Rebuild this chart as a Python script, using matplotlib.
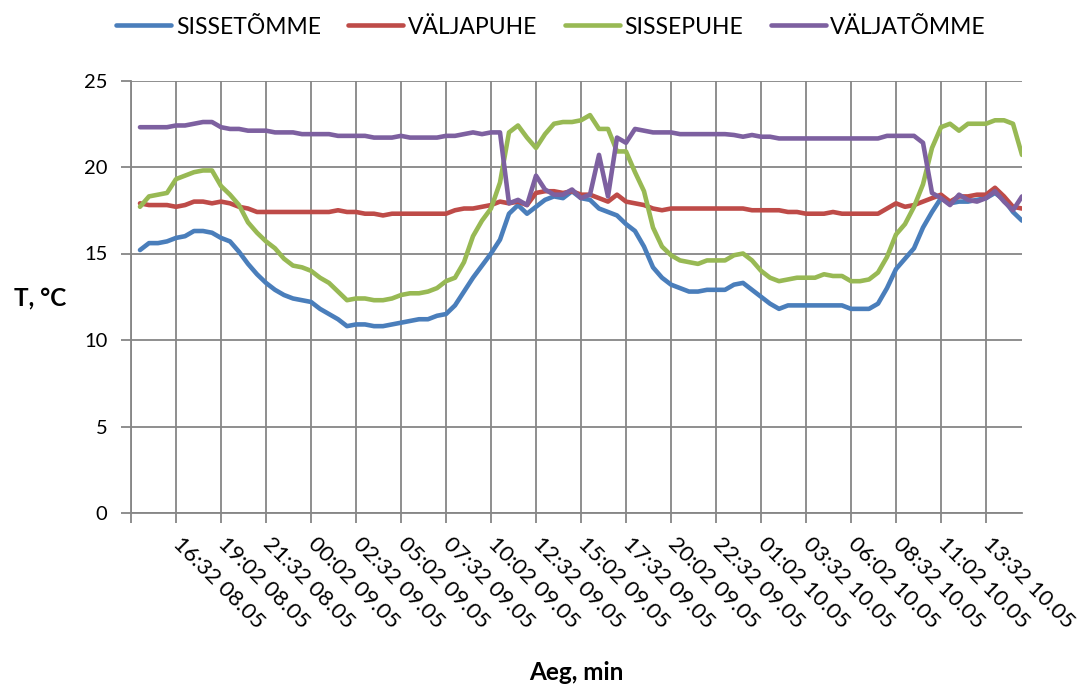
import matplotlib
matplotlib.use('Agg')
from matplotlib import pyplot as plt
from matplotlib import transforms
import numpy as np

plt.rcParams['font.family'] = ['Lato', 'DejaVu Sans']

# temperatures, 30 min step (first category of the axis is empty)
sissetomme = [15.2, 15.6, 15.6, 15.7, 15.9, 16.0, 16.3, 16.3, 16.2, 15.9, 15.7, 15.1, 14.4, 13.8, 13.3, 12.9, 12.6, 12.4, 12.3,
              12.2, 11.8, 11.5, 11.2, 10.8, 10.9, 10.9, 10.8, 10.8, 10.9, 11.0, 11.1, 11.2, 11.2, 11.4, 11.5, 12.0, 12.8, 13.6,
              14.3, 15.0, 15.8, 17.3, 17.8, 17.3, 17.7, 18.1, 18.3, 18.2, 18.6, 18.2, 18.1, 17.6, 17.4, 17.2, 16.7, 16.3, 15.4,
              14.2, 13.6, 13.2, 13.0, 12.8, 12.8, 12.9, 12.9, 12.9, 13.2, 13.3, 12.9, 12.5, 12.1, 11.8, 12.0, 12.0, 12.0,
              12.0, 12.0, 12.0, 12.0, 11.8, 11.8, 11.8, 12.1, 13.0, 14.1, 14.7, 15.3, 16.5, 17.4, 18.2, 17.9, 18.0, 18.0,
              18.1, 18.2, 18.5, 18.1, 17.4, 16.9]
valjapuhe = [17.9, 17.8, 17.8, 17.8, 17.7, 17.8, 18.0, 18.0, 17.9, 18.0, 17.9, 17.7, 17.6, 17.4, 17.4, 17.4, 17.4, 17.4, 17.4,
             17.4, 17.4, 17.4, 17.5, 17.4, 17.4, 17.3, 17.3, 17.2, 17.3, 17.3, 17.3, 17.3, 17.3, 17.3, 17.3, 17.5, 17.6, 17.6,
             17.7, 17.8, 18.0, 17.9, 18.0, 17.8, 18.5, 18.6, 18.6, 18.5, 18.6, 18.4, 18.4, 18.2, 18.0, 18.4, 18.0, 17.9, 17.8,
             17.6, 17.5, 17.6, 17.6, 17.6, 17.6, 17.6, 17.6, 17.6, 17.6, 17.6, 17.5, 17.5, 17.5, 17.5, 17.4, 17.4, 17.3,
             17.3, 17.3, 17.4, 17.3, 17.3, 17.3, 17.3, 17.3, 17.6, 17.9, 17.7, 17.8, 18.0, 18.2, 18.4, 18.0, 18.3, 18.3,
             18.4, 18.4, 18.8, 18.3, 17.7, 17.6]
sissepuhe = [17.7, 18.3, 18.4, 18.5, 19.3, 19.5, 19.7, 19.8, 19.8, 18.9, 18.4, 17.8, 16.8, 16.2, 15.7, 15.3, 14.7, 14.3, 14.2,
             14.0, 13.6, 13.3, 12.8, 12.3, 12.4, 12.4, 12.3, 12.3, 12.4, 12.6, 12.7, 12.7, 12.8, 13.0, 13.4, 13.6, 14.5, 16.0,
             16.9, 17.6, 19.1, 22.0, 22.4, 21.7, 21.1, 21.9, 22.5, 22.6, 22.6, 22.7, 23.0, 22.2, 22.2, 20.9, 20.9, 19.7, 18.6,
             16.5, 15.4, 14.9, 14.6, 14.5, 14.4, 14.6, 14.6, 14.6, 14.9, 15.0, 14.6, 14.0, 13.6, 13.4, 13.5, 13.6, 13.6,
             13.6, 13.8, 13.7, 13.7, 13.4, 13.4, 13.5, 13.9, 14.8, 16.1, 16.7, 17.7, 19.0, 21.1, 22.3, 22.5, 22.1, 22.5,
             22.5, 22.5, 22.7, 22.7, 22.5, 20.7]
valjatomme = [22.3, 22.3, 22.3, 22.3, 22.4, 22.4, 22.5, 22.6, 22.6, 22.3, 22.2, 22.2, 22.1, 22.1, 22.1, 22.0, 22.0, 22.0, 21.9,
              21.9, 21.9, 21.9, 21.8, 21.8, 21.8, 21.8, 21.7, 21.7, 21.7, 21.8, 21.7, 21.7, 21.7, 21.7, 21.8, 21.8, 21.9, 22.0,
              21.9, 22.0, 22.0, 17.9, 18.1, 17.8, 19.5, 18.7, 18.4, 18.4, 18.7, 18.2, 18.4, 20.7, 18.3, 21.7, 21.4, 22.2, 22.1,
              22.0, 22.0, 22.0, 21.9, 21.9, 21.9, 21.9, 21.9, 21.9, 21.85, 21.75, 21.85, 21.75, 21.75, 21.65, 21.65, 21.65, 21.65,
              21.65, 21.65, 21.65, 21.65, 21.65, 21.65, 21.65, 21.65, 21.8, 21.8, 21.8, 21.8, 21.4, 18.5, 18.2, 17.8, 18.4, 18.1,
              18.0, 18.2, 18.6, 18.0, 17.5, 18.3]

names = ['SISSETÕMME', 'VÄLJAPUHE', 'SISSEPUHE', 'VÄLJATÕMME']
colors = ['#4A7EBB', '#BE4B48', '#98B954', '#7D60A0']

time_labels = ['16:32 08.05', '19:02 08.05', '21:32 08.05', '00:02 09.05', '02:32 09.05', '05:02 09.05',
               '07:32 09.05', '10:02 09.05', '12:32 09.05', '15:02 09.05', '17:32 09.05', '20:02 09.05',
               '22:32 09.05', '01:02 10.05', '03:32 10.05', '06:02 10.05', '08:32 10.05', '11:02 10.05',
               '13:32 10.05']

grid_c = '#868686'

fig = plt.figure(figsize=(10.81, 6.86), dpi=100)
ax = fig.add_axes([131 / 1081, 1 - 513 / 686, (1022 - 131) / 1081, (513 - 80.5) / 686])

x = np.arange(1, len(sissetomme) + 1)
for series, name, c in zip([sissetomme, valjapuhe, sissepuhe, valjatomme], names, colors):
    ax.plot(x, series, color=c, lw=3.3, label=name, solid_joinstyle='round', solid_capstyle='round')

ax.set_xlim(0, len(x))
ax.set_ylim(0, 25)
ax.set_yticks(range(0, 26, 5))
ax.set_xticks(range(0, 5 * len(time_labels) + 1, 5))
ax.set_xticklabels([''] + time_labels, rotation=-45, ha='left', va='center', rotation_mode='anchor')
ax.grid(True, color=grid_c, lw=1.3)
ax.set_axisbelow(True)
for s in ['top', 'right']:
    ax.spines[s].set_visible(False)
for s in ['left', 'bottom']:
    ax.spines[s].set_color(grid_c)
    ax.spines[s].set_linewidth(1.3)
ax.tick_params(axis='both', direction='out', length=7, width=1.3, color=grid_c, labelsize=14.5)
ax.tick_params(axis='y', pad=10)
ax.tick_params(axis='x', pad=13)

# shift the rotated labels a little, like excel does
off = transforms.ScaledTranslation(0, 0, fig.dpi_scale_trans)
for lab in ax.get_xticklabels():
    lab.set_transform(lab.get_transform() + off)
    lab.set_fontsize(16)

fig.text(40 / 1081, 1 - 298 / 686, 'T, °C', ha='center', va='center', fontsize=17.5, fontweight='bold')
fig.text(576 / 1081, 1 - 672 / 686, 'Aeg, min', ha='center', va='center', fontsize=17.5, fontweight='bold')

fig.legend(loc='center', bbox_to_anchor=(551 / 1081, 1 - 27 / 686), ncol=4, frameon=False,
           fontsize=16.5, handlelength=2.4, handletextpad=0.2, columnspacing=1.2)

plt.savefig('out.png', dpi=100)
